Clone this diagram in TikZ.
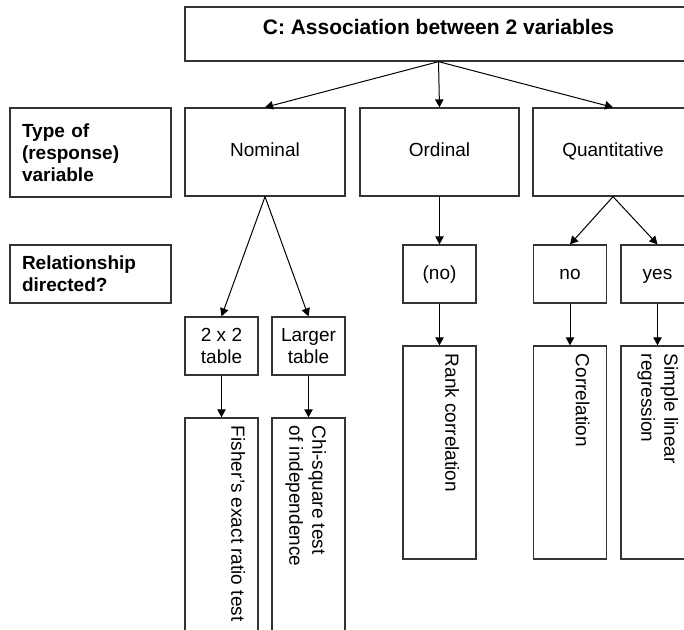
\documentclass[tikz,border=0pt]{standalone}
\usepackage{fontspec}
\setmainfont{Liberation Sans}
\usetikzlibrary{arrows.meta}

\begin{document}
\begin{tikzpicture}[x=0.5pt,y=-0.5pt]
\tikzstyle{box}=[draw=black!80, line width=0.65pt, inner sep=0pt, align=center, font=\fontsize{9.5}{11}\selectfont]
\tikzstyle{side}=[box, font=\fontsize{9.5}{11}\selectfont\bfseries, align=left, text width=68.5pt, inner xsep=6pt, minimum width=80.5pt]
\tikzstyle{oneline}=[text height=7pt, text depth=2pt]
\tikzstyle{small}=[box, minimum width=36.5pt, minimum height=29pt]
\tikzstyle{wide}=[box, oneline, minimum width=80pt, minimum height=44pt]
\tikzstyle{tall}=[box, minimum width=36.5pt]
\tikzstyle{vtext}=[rotate=-90, anchor=north west, inner sep=0pt, align=left, font=\fontsize{9.5}{11.5}\selectfont]
\tikzstyle{arr}=[-{Triangle[length=4pt,width=4.2pt]}, line width=0.5pt]

\useasboundingbox (0,0) rectangle (684,630);
\clip (0,0) rectangle (684,630);

\node[box, minimum width=253.5pt, text height=14pt, text depth=13pt, font=\fontsize{10.5}{12}\selectfont\bfseries] (assoc) at (438.5,34) {C: Association between 2 variables};

\node[side, minimum height=44.5pt] (type) at (90.5,152.5) {Type of\\(response)\\variable};
\node[wide] (nominal) at (265,152) {Nominal};
\node[wide, minimum width=79.5pt] (ordinal) at (439.5,152) {Ordinal};
\node[wide] (quant) at (613,152) {Quantitative};

\node[side, minimum height=29pt] (directed) at (90.5,274) {Relationship\\directed?};
\node[small, oneline] (nodir) at (439.5,274) {(no)};
\node[small, oneline] (qno) at (570,274) {no};
\node[small, oneline] (qyes) at (657.5,274) {yes};
\node[small] (twobytwo) at (221.5,346) {2 x 2\\table};
\node[small] (larger) at (308.5,346) {Larger\\table};

\node[tall, minimum height=136pt] (fisher) at (221.5,554) {};
\node[tall, minimum height=136pt] (chi) at (308.5,554) {};
\node[tall, minimum height=106.5pt] (rank) at (439.5,452.5) {};
\node[tall, minimum height=106.5pt] (corr) at (570,452.5) {};
\node[tall, minimum height=106.5pt] (simple) at (657.5,452.5) {};

\node[vtext] (fishertxt) at ([xshift=-6.5pt,yshift=-4pt]fisher.north east) {Fisher's exact ratio test};
\node[vtext] (chitxt) at ([xshift=-9.5pt,yshift=-4pt]chi.north east) {Chi-square test\\of independence};
\node[vtext] (ranktxt) at ([xshift=-8.5pt,yshift=-4pt]rank.north east) {Rank correlation};
\node[vtext] (corrtxt) at ([xshift=-8.5pt,yshift=-4pt]corr.north east) {Correlation};
\node[vtext] (simpletxt) at ([xshift=-8pt,yshift=-4pt]simple.north east) {Simple linear\\regression};

\draw[arr] (assoc.south) -- (nominal.north);
\draw[arr] (assoc.south) -- (ordinal.north);
\draw[arr] (assoc.south) -- (quant.north);
\draw[arr] (nominal.south) -- (twobytwo.north);
\draw[arr] (nominal.south) -- (larger.north);
\draw[arr] (ordinal.south) -- (nodir.north);
\draw[arr] (quant.south) -- (qno.north);
\draw[arr] (quant.south) -- (qyes.north);
\draw[arr] (twobytwo.south) -- (fisher.north);
\draw[arr] (larger.south) -- (chi.north);
\draw[arr] (nodir.south) -- (rank.north);
\draw[arr] (qno.south) -- (corr.north);
\draw[arr] (qyes.south) -- (simple.north);
\end{tikzpicture}
\end{document}
